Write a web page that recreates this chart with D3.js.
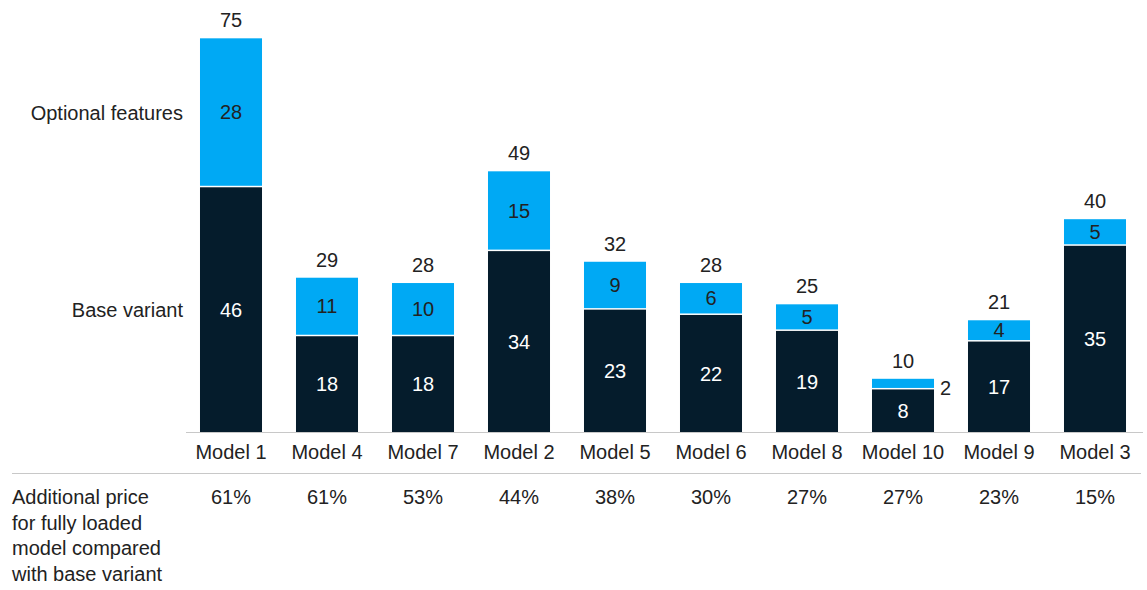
<!DOCTYPE html>
<html>
<head>
<meta charset="utf-8">
<script src="https://cdn.jsdelivr.net/npm/d3@7"></script>
<style>
  html, body { margin: 0; padding: 0; background: #fff; }
  svg { display: block; font-family: "Liberation Sans", Arial, sans-serif; }
</style>
</head>
<body>
<svg id="chart" width="1147" height="590"></svg>
<script>
const models   = ["Model 1","Model 4","Model 7","Model 2","Model 5","Model 6","Model 8","Model 10","Model 9","Model 3"];
const baseVals = [46, 18, 18, 34, 23, 22, 19, 8, 17, 35];
const optVals  = [28, 11, 10, 15, 9, 6, 5, 2, 4, 5];
const totals   = [75, 29, 28, 49, 32, 28, 25, 10, 21, 40];
const pctLabels = ["61%","61%","53%","44%","38%","30%","27%","27%","23%","15%"];
const seriesNames = ["Optional features", "Base variant"];
const rowLabel = ["Additional price", "for fully loaded", "model compared", "with base variant"];

const dark = "#051c2c", light = "#00a9f4", textCol = "#222222", lineCol = "#c8c8c8";
const FS = 20;
const svg = d3.select("#chart");

const x = d3.scaleBand().domain(models).range([183, 1143]).paddingInner(0.354).paddingOuter(0.177);
const y = d3.scaleLinear().domain([0, 75]).range([432, 33]);

const data = models.map((m, i) => ({ m, base: baseVals[i], opt: optVals[i], total: totals[i], pct: pctLabels[i] }));

const g = svg.append("g");
g.selectAll("rect.base").data(data).join("rect")
  .attr("x", d => x(d.m)).attr("width", x.bandwidth())
  .attr("y", d => y(d.base)).attr("height", d => y(0) - y(d.base))
  .attr("fill", dark);
g.selectAll("rect.opt").data(data).join("rect")
  .attr("x", d => x(d.m)).attr("width", x.bandwidth())
  .attr("y", d => y(d.base + d.opt)).attr("height", d => Math.max(0, y(d.base) - y(d.base + d.opt) - 1.5))
  .attr("fill", light);

g.selectAll("text.baseLbl").data(data).join("text")
  .attr("x", d => x(d.m) + x.bandwidth() / 2)
  .attr("y", d => (y(0) + y(d.base)) / 2)
  .attr("dy", "0.36em").attr("text-anchor", "middle")
  .attr("font-size", FS).attr("fill", "#ffffff")
  .text(d => d.base);
g.selectAll("text.optLbl").data(data).join("text")
  .attr("x", d => d.opt < 3 ? x(d.m) + x.bandwidth() + 6 : x(d.m) + x.bandwidth() / 2)
  .attr("y", d => d.opt < 3 ? y(d.base) - 2 : (y(d.base) + y(d.base + d.opt)) / 2 - 0.75)
  .attr("dy", "0.36em").attr("text-anchor", d => d.opt < 3 ? "start" : "middle")
  .attr("font-size", FS).attr("fill", textCol)
  .text(d => d.opt);
g.selectAll("text.tot").data(data).join("text")
  .attr("x", d => x(d.m) + x.bandwidth() / 2)
  .attr("y", d => y(d.base + d.opt) - 11)
  .attr("text-anchor", "middle")
  .attr("font-size", FS).attr("fill", textCol)
  .text(d => d.total);

const d0 = data[0];
svg.append("text").attr("x", 183).attr("y", (y(d0.base) + y(d0.base + d0.opt)) / 2)
  .attr("dy", "0.36em").attr("text-anchor", "end").attr("font-size", FS).attr("fill", textCol)
  .text(seriesNames[0]);
svg.append("text").attr("x", 183).attr("y", (y(0) + y(d0.base)) / 2)
  .attr("dy", "0.36em").attr("text-anchor", "end").attr("font-size", FS).attr("fill", textCol)
  .text(seriesNames[1]);

const xAxis = svg.append("g").attr("transform", "translate(0,432)")
  .call(d3.axisBottom(x).tickSize(0).tickPadding(0));
xAxis.select(".domain").remove();
xAxis.selectAll("text").attr("font-size", FS).attr("fill", textCol)
  .attr("font-family", "'Liberation Sans', Arial, sans-serif").attr("dy", null).attr("y", 27);
svg.append("line").attr("x1", 186).attr("x2", 1143).attr("y1", 432.5).attr("y2", 432.5)
  .attr("stroke", lineCol).attr("stroke-width", 1);

svg.append("line").attr("x1", 12).attr("x2", 1141).attr("y1", 473.5).attr("y2", 473.5)
  .attr("stroke", lineCol).attr("stroke-width", 1);

svg.selectAll("text.pct").data(data).join("text")
  .attr("x", d => x(d.m) + x.bandwidth() / 2).attr("y", 504)
  .attr("text-anchor", "middle").attr("font-size", FS).attr("fill", textCol)
  .text(d => d.pct);

svg.append("text").attr("x", 12).attr("y", 504).attr("font-size", FS).attr("fill", textCol)
  .selectAll("tspan").data(rowLabel).join("tspan")
  .attr("x", 12).attr("dy", (d, i) => i === 0 ? 0 : 25.5).text(d => d);
</script>
</body>
</html>
